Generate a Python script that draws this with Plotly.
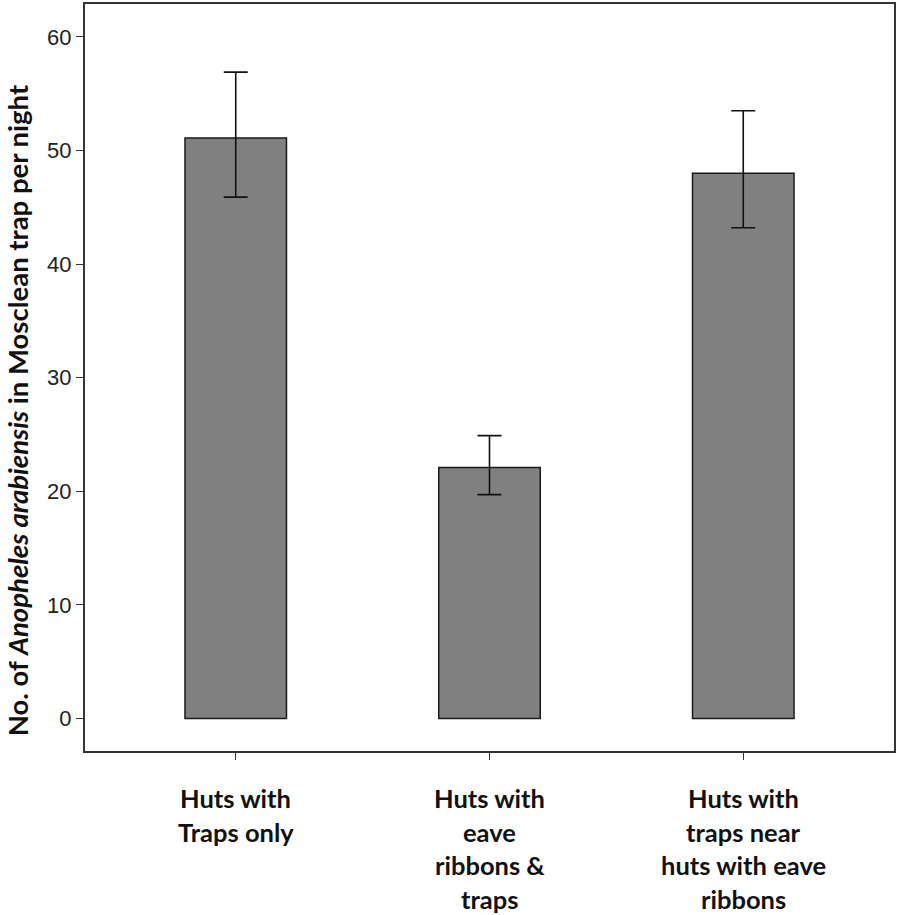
import plotly.graph_objects as go

categories = ["Huts with Traps only", "Huts with eave ribbons & traps", "Huts with traps near huts with eave ribbons"]
label_lines = [["Huts with", "Traps only"],
               ["Huts with", "eave", "ribbons &", "traps"],
               ["Huts with", "traps near", "huts with eave", "ribbons"]]
means = [51.1, 22.1, 48.0]
upper = [56.9, 24.9, 53.5]
lower = [45.9, 19.7, 43.2]
y_ticks = [0, 10, 20, 30, 40, 50, 60]

err_plus = [u - m for u, m in zip(upper, means)]
err_minus = [m - l for m, l in zip(means, lower)]

fig = go.Figure()
fig.add_trace(go.Bar(
    x=list(range(len(categories))), y=means, width=0.4,
    marker=dict(color="#808080", line=dict(color="#1a1a1a", width=1.5)),
    error_y=dict(type="data", array=err_plus, arrayminus=err_minus, symmetric=False,
                 color="#111111", thickness=1.6, width=12),
    hovertext=categories,
))

for i, lines in enumerate(label_lines):
    for j, line in enumerate(lines):
        fig.add_annotation(x=i, xref="x", y=0, yref="paper", text="<b>%s</b>" % line,
                           showarrow=False, xanchor="center", yanchor="middle",
                           yshift=-(47 + 33.5 * j),
                           font=dict(family="Lato", size=25.5, color="#111111"))

fig.add_annotation(x=-0.083, xref="paper", y=0.456, yref="paper",
                   text="<b>No. of <i>Anopheles arabiensis</i> in Mosclean trap per night</b>",
                   textangle=-90, showarrow=False, xanchor="center", yanchor="middle",
                   font=dict(family="Lato", size=27.5, color="#111111"))

fig.update_layout(
    width=898, height=915,
    margin=dict(l=85, r=3, t=2, b=164),
    plot_bgcolor="white", paper_bgcolor="white",
    showlegend=False,
    xaxis=dict(range=[-0.594, 2.594], tickvals=list(range(len(categories))), showticklabels=False,
               ticks="outside", ticklen=7, tickcolor="#333333", tickwidth=1,
               showline=True, linecolor="#333333", linewidth=2, mirror=True,
               showgrid=False, zeroline=False),
    yaxis=dict(range=[-2.87, 62.9], tickvals=y_ticks, ticks="outside", ticklen=7,
               tickcolor="#333333", tickwidth=1,
               tickfont=dict(family="Liberation Sans", size=22, color="#222222"),
               showline=True, linecolor="#333333", linewidth=2, mirror=True,
               showgrid=False, zeroline=False),
)

fig.write_html("out.html", config={"displayModeBar": False},
               post_script="document.body.style.margin='0';document.body.style.overflow='hidden';")
